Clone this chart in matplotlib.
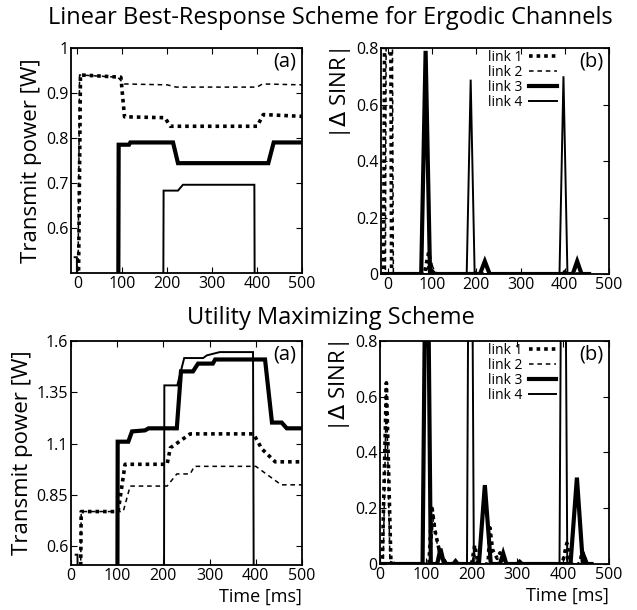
import matplotlib
matplotlib.use("Agg")
import matplotlib.pyplot as plt

plt.rcParams.update(
    {
        "font.family": ["Open Sans", "DejaVu Sans"],
        "font.size": 11,
        "xtick.direction": "in",
        "ytick.direction": "in",
        "xtick.top": True,
        "ytick.right": True,
        "xtick.major.size": 4,
        "ytick.major.size": 4,
        "axes.linewidth": 1.3,
    }
)

# ----------------------------------------------------------------------------
# Data (breakpoints in ms)
# ----------------------------------------------------------------------------

# Linear best-response, transmit power [W]
lin_p1_t = [-2, 7, 97, 105, 195, 207, 400, 414, 500]
lin_p1 = [0.0, 0.94, 0.935, 0.847, 0.845, 0.826, 0.826, 0.852, 0.848]
lin_p2_t = [-2, 5, 90, 104, 200, 220, 400, 412, 500]
lin_p2 = [0.0, 0.94, 0.935, 0.92, 0.918, 0.913, 0.913, 0.92, 0.918]
lin_p3_t = [0, 90, 92, 115, 118, 213, 224, 425, 437, 500]
lin_p3 = [0.0, 0.0, 0.785, 0.785, 0.79, 0.79, 0.744, 0.744, 0.79, 0.79]
lin_p4_t = [-6, -1, 0, 190, 192, 224, 235, 394, 396, 500]
lin_p4 = [0.535, 0.535, 0.0, 0.0, 0.683, 0.683, 0.696, 0.696, 0.0, 0.0]

# Linear best-response, |delta SINR|
lin_s1_t = [-16, -10, 0, 8, 82, 92, 100, 108, 186, 192, 198, 396, 402, 408, 455]
lin_s1 = [0, 0, 4.0, 0, 0, 0.078, 0.01, 0, 0, 0.012, 0, 0, 0.012, 0, 0]
lin_s2_t = [-16, -6, 2, 12, 85, 95, 105, 115, 455]
lin_s2 = [0, 0, 4.0, 0, 0, 0.05, 0.01, 0, 0]
lin_s3_t = [-16, 75, 85, 95, 208, 219, 230, 418, 428, 438, 455]
lin_s3 = [0, 0, 0.79, 0, 0, 0.045, 0, 0, 0.045, 0, 0]
lin_s4_t = [-16, 178, 187, 196, 388, 397, 406, 455]
lin_s4 = [0, 0, 0.688, 0, 0, 0.70, 0, 0]

# Utility maximizing, transmit power [W]
util_p1_t = [0, 19, 22, 102, 117, 208, 215, 258, 395, 413, 442, 500]
util_p1 = [0.0, 0.0, 0.77, 0.77, 1.0, 1.0, 1.08, 1.148, 1.148, 1.075, 1.012, 1.012]
util_p2_t = [0, 19, 22, 113, 128, 208, 229, 258, 267, 400, 455, 500]
util_p2 = [0.0, 0.0, 0.77, 0.77, 0.894, 0.894, 0.953, 0.953, 0.99, 0.99, 0.90, 0.90]
util_p3_t = [0, 100, 101, 124, 132, 160, 168, 229, 238, 264, 275, 307, 312, 420, 435, 456, 467, 500]
util_p3 = [0.0, 0.0, 1.11, 1.11, 1.16, 1.165, 1.175, 1.175, 1.452, 1.452, 1.49, 1.49, 1.51, 1.51, 1.203, 1.203, 1.175, 1.175]
util_p4_t = [10, 14, 15, 201, 202, 230, 245, 286, 294, 322, 394, 396, 500]
util_p4 = [0.56, 0.56, 0.0, 0.0, 1.384, 1.384, 1.517, 1.517, 1.53, 1.546, 1.546, 0.0, 0.0]

# Utility maximizing, |delta SINR|
util_s1_t = [0, 5, 14, 24, 27, 30, 107, 113, 120, 128, 135, 145, 200, 207, 214, 236, 240, 246, 256, 262, 270,
             398, 408, 416, 436, 441, 448, 462]
util_s1 = [0, 0, 0.65, 0, 0.015, 0, 0, 0.21, 0.12, 0.06, 0.03, 0, 0, 0.068, 0, 0, 0.13, 0.05, 0.02, 0.04, 0,
           0, 0.075, 0, 0, 0.04, 0, 0]
util_s2_t = [0, 7, 14, 22, 110, 117, 125, 132, 200, 206, 212, 398, 404, 410, 462]
util_s2 = [0, 0, 0.63, 0, 0, 0.18, 0.07, 0, 0, 0.04, 0, 0, 0.05, 0, 0]
util_s3_t = [0, 93, 102, 111, 125, 132, 140, 160, 165, 170, 216, 229, 242, 262, 269, 276, 300, 305, 310,
             416, 430, 443, 446, 452, 462]
util_s3 = [0, 0, 1.6, 0, 0, 0.055, 0, 0, 0.01, 0, 0, 0.283, 0, 0, 0.038, 0, 0, 0.008, 0,
           0, 0.31, 0, 0.025, 0, 0]
util_s4_t = [0, 190, 197, 205, 392, 400, 409, 462]
util_s4 = [0, 0, 2.5, 0, 0, 2.5, 0, 0]

time_ticks = [0, 100, 200, 300, 400, 500]
lin_power_ticks = [0.6, 0.7, 0.8, 0.9, 1.0]
lin_power_labels = ["0.6", "0.7", "0.8", "0.9", "1"]
util_power_ticks = [0.6, 0.85, 1.1, 1.35, 1.6]
util_power_labels = ["0.6", "0.85", "1.1", "1.35", "1.6"]
sinr_ticks = [0, 0.2, 0.4, 0.6, 0.8]
sinr_labels = ["0", "0.2", "0.4", "0.6", "0.8"]
link_labels = ["link 1", "link 2", "link 3", "link 4"]

# link styles: thick dotted, thin dashed, thick solid, thin solid
styles = [
    dict(color="black", linewidth=2.6, linestyle=(0, (1, 1.1))),
    dict(color="black", linewidth=1.1, linestyle=(0, (3, 2.5))),
    dict(color="black", linewidth=3.0, linestyle="-"),
    dict(color="black", linewidth=1.4, linestyle="-"),
]


def draw_links(ax, series):
    lines = []
    for (t, v), st in zip(series, styles):
        (ln,) = ax.plot(t, v, solid_joinstyle="miter", **st)
        lines.append(ln)
    return lines


fig = plt.figure(figsize=(6.37, 6.10), dpi=100)

ax_a1 = fig.add_axes([0.1115, 0.5525, 0.3626, 0.3689])
ax_b1 = fig.add_axes([0.5981, 0.5508, 0.3579, 0.3705])
ax_a2 = fig.add_axes([0.1115, 0.0738, 0.3626, 0.3672])
ax_b2 = fig.add_axes([0.5965, 0.0754, 0.3595, 0.3656])

draw_links(ax_a1, [(lin_p1_t, lin_p1), (lin_p2_t, lin_p2), (lin_p3_t, lin_p3), (lin_p4_t, lin_p4)])
lines_b1 = draw_links(ax_b1, [(lin_s1_t, lin_s1), (lin_s2_t, lin_s2), (lin_s3_t, lin_s3), (lin_s4_t, lin_s4)])
draw_links(ax_a2, [(util_p1_t, util_p1), (util_p2_t, util_p2), (util_p3_t, util_p3), (util_p4_t, util_p4)])
lines_b2 = draw_links(ax_b2, [(util_s1_t, util_s1), (util_s2_t, util_s2), (util_s3_t, util_s3), (util_s4_t, util_s4)])

# Power panels
ax_a1.set_xlim(-14, 500)
ax_a1.set_ylim(0.5, 1.0)
ax_a1.set_yticks(lin_power_ticks, lin_power_labels)
ax_a2.set_xlim(0, 500)
ax_a2.set_ylim(0.51, 1.6)
ax_a2.set_yticks(util_power_ticks, util_power_labels)
for ax in (ax_a1, ax_a2):
    ax.set_xticks(time_ticks)
    ax.set_ylabel("Transmit power [W]", fontsize=16, labelpad=3)
    ax.text(0.975, 0.985, "(a)", transform=ax.transAxes, ha="right", va="top", fontsize=14.5)

# SINR panels
ax_b1.set_xlim(-16, 500)
ax_b2.set_xlim(0, 500)
for ax, lines in ((ax_b1, lines_b1), (ax_b2, lines_b2)):
    ax.set_ylim(0, 0.8)
    ax.set_xticks(time_ticks)
    ax.set_yticks(sinr_ticks, sinr_labels)
    ax.set_ylabel("|$\\Delta$ SINR|", fontsize=16, loc="top", labelpad=2)
    ax.text(0.975, 0.985, "(b)", transform=ax.transAxes, ha="right", va="top", fontsize=14.5)
    ax.legend(
        lines,
        link_labels,
        loc="upper right",
        bbox_to_anchor=(0.77, 0.99),
        frameon=False,
        markerfirst=False,
        fontsize=10,
        labelspacing=0.0,
        handlelength=2.0,
        handletextpad=0.45,
        borderpad=0.0,
        borderaxespad=0.0,
    )

for ax in (ax_a2, ax_b2):
    ax.set_xlabel("Time [ms]", fontsize=13, loc="right", labelpad=3)

for ax in (ax_a1, ax_b1, ax_a2, ax_b2):
    ax.tick_params(labelsize=11.5, pad=2)

fig.text(0.518, 0.970, "Linear Best-Response Scheme for Ergodic Channels", ha="center", va="center", fontsize=17)
fig.text(0.520, 0.478, "Utility Maximizing Scheme", ha="center", va="center", fontsize=17)

fig.savefig("out.png", dpi=100)
plt.close(fig)
